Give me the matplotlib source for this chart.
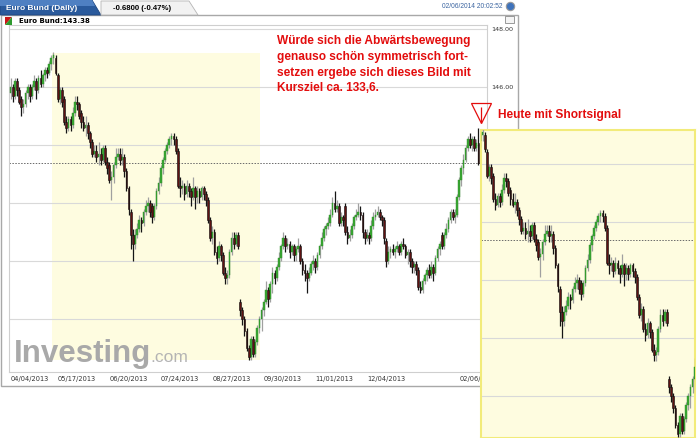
#!/usr/bin/python3
"""
Euro Bund (Daily) - Kerzenchart mit eingefügter Projektion der Abwärtsbewegung.
Nachbau eines Screenshots, gespeichert als out.png (700x438).
"""

import numpy as np
import matplotlib
matplotlib.use("Agg")
import matplotlib.pyplot as plt
from matplotlib.patches import Rectangle, Polygon
from matplotlib.lines import Line2D

FIG_W, FIG_H = 700, 438

# Tageskerzen 04/04/2013 - 02/06/2014, Index = Handelstag
opens = [
    145.8, 146.0, 145.7, 146.2, 145.9, 145.6, 145.3, 145.4, 145.8, 146.0,
    145.7, 146.0, 146.2, 145.9, 146.3, 146.1, 146.4, 146.6, 146.5, 146.8,
    147.0, 147.0, 146.4, 145.6, 145.9, 145.6, 144.8, 144.6, 144.9, 144.7,
    145.1, 145.5, 145.4, 145.1, 144.8, 144.6, 144.7, 144.4, 144.1, 143.7,
    143.8, 143.6, 143.7, 143.5, 143.9, 143.4, 143.3, 142.8, 142.9, 143.3,
    143.6, 143.7, 143.5, 143.6, 143.1, 142.5, 141.7, 140.9, 140.6, 140.9,
    141.1, 141.4, 141.3, 141.7, 141.9, 142.0, 141.9, 141.5, 141.9, 142.4,
    142.7, 143.2, 143.5, 143.8, 144.0, 144.2, 144.3, 144.2, 143.8, 142.6,
    142.5, 142.6, 142.3, 142.6, 142.4, 142.2, 142.5, 142.2, 142.4, 142.2,
    142.5, 142.3, 142.1, 141.4, 140.8, 141.0, 140.3, 140.1, 140.5, 140.2,
    139.6, 139.4, 139.5, 140.3, 140.8, 140.6, 140.9, 138.6, 138.3, 138.0,
    137.6, 137.0, 136.7, 137.3, 136.8, 137.2, 137.7, 138.0, 138.3, 138.6,
    139.0, 138.7, 139.2, 139.6, 139.4, 139.8, 140.1, 140.5, 140.8, 140.5,
    140.6, 140.3, 140.5, 140.2, 140.4, 140.5, 140.0, 139.7, 139.6, 139.4,
    139.6, 139.9, 140.0, 139.8, 140.2, 140.5, 140.8, 141.1, 141.2, 141.3,
    141.6, 142.0, 141.8, 141.9, 141.3, 141.5, 141.9, 141.0, 140.8, 140.9,
    141.2, 141.5, 141.6, 141.7, 141.6, 141.0, 140.8, 140.9, 140.8, 141.2,
    141.5, 141.6, 141.7, 141.5, 141.4, 140.7, 140.0, 140.3, 140.4, 140.3,
    140.4, 140.5, 140.3, 140.6, 140.5, 140.2, 140.3, 140.0, 139.8, 139.9,
    139.7, 139.1, 139.0, 139.3, 139.5, 139.7, 139.5, 139.8, 139.6, 140.1,
    140.4, 140.9, 140.5, 140.9, 141.1, 141.4, 141.7, 141.5, 141.6, 142.2,
    142.8, 143.2, 143.5, 143.9, 144.2, 144.0, 144.2, 143.9, 144.06,
]
highs = [
    146.3, 146.1, 146.3, 146.3, 146.0, 145.7, 145.6, 145.9, 146.1, 146.1,
    146.1, 146.4, 146.3, 146.4, 146.6, 146.5, 146.7, 146.7, 146.9, 147.1,
    147.2, 147.1, 146.5, 146.0, 146.0, 145.7, 145.0, 145.0, 145.0, 145.3,
    145.7, 145.7, 145.5, 145.2, 145.0, 145.0, 144.8, 144.5, 144.2, 144.0,
    144.0, 144.1, 143.9, 144.0, 144.0, 143.6, 143.4, 143.1, 143.4, 143.9,
    143.9, 143.9, 143.9, 143.7, 143.2, 142.6, 141.8, 141.1, 141.1, 141.3,
    141.6, 141.5, 141.8, 142.1, 142.2, 142.1, 142.0, 142.0, 142.5, 142.9,
    143.3, 143.6, 143.9, 144.1, 144.3, 144.4, 144.4, 144.3, 143.9, 142.9,
    142.8, 142.7, 142.8, 142.7, 142.5, 142.9, 142.6, 142.6, 142.5, 142.6,
    142.6, 142.4, 142.2, 141.5, 141.2, 141.1, 140.5, 140.7, 140.6, 140.3,
    139.8, 139.7, 140.4, 141.0, 141.0, 141.0, 141.0, 138.7, 138.4, 138.1,
    137.7, 137.1, 137.4, 137.4, 137.3, 137.8, 138.1, 138.4, 138.7, 139.3,
    139.1, 139.3, 139.8, 139.7, 139.9, 140.3, 140.6, 141.0, 140.9, 140.8,
    140.7, 140.6, 140.6, 140.5, 140.8, 140.6, 140.1, 139.9, 139.7, 139.8,
    140.0, 140.2, 140.1, 140.3, 140.6, 141.0, 141.2, 141.3, 141.5, 141.8,
    142.2, 142.4, 142.1, 142.0, 141.7, 141.6, 142.0, 141.2, 141.1, 141.3,
    141.6, 141.8, 142.0, 141.9, 141.7, 141.1, 141.1, 141.0, 141.4, 141.7,
    141.8, 141.9, 141.8, 141.6, 141.5, 140.8, 140.5, 140.5, 140.6, 140.5,
    140.7, 140.6, 140.7, 140.8, 140.6, 140.4, 140.4, 140.1, 140.0, 140.0,
    139.8, 139.3, 139.4, 139.6, 139.8, 139.9, 140.0, 139.9, 140.2, 140.5,
    140.7, 141.0, 141.0, 141.3, 141.5, 141.8, 141.8, 141.8, 142.3, 142.9,
    143.3, 143.7, 144.0, 144.3, 144.4, 144.3, 144.3, 144.2, 144.6,
]
lows = [
    145.6, 145.5, 145.6, 145.7, 145.4, 145.0, 145.1, 145.3, 145.6, 145.5,
    145.6, 145.9, 145.6, 145.8, 146.0, 146.0, 146.2, 146.3, 146.4, 146.6,
    146.8, 146.4, 145.5, 145.4, 145.3, 144.7, 144.4, 144.5, 144.5, 144.6,
    145.0, 145.2, 144.9, 144.6, 144.5, 144.3, 144.2, 143.9, 143.6, 143.6,
    143.4, 143.3, 143.3, 143.4, 143.3, 143.0, 142.7, 142.1, 142.7, 143.2,
    143.5, 143.3, 143.3, 142.9, 142.4, 141.6, 140.4, 140.0, 140.4, 140.8,
    141.0, 141.0, 141.2, 141.6, 141.7, 141.5, 141.3, 141.4, 141.8, 142.3,
    142.6, 143.0, 143.4, 143.7, 143.9, 144.0, 144.0, 143.7, 142.5, 142.2,
    142.3, 142.1, 142.2, 142.2, 141.9, 142.1, 141.8, 142.0, 142.0, 142.1,
    142.1, 141.9, 141.3, 140.7, 140.6, 140.2, 139.9, 140.0, 140.0, 139.5,
    139.2, 139.2, 139.4, 140.2, 140.4, 140.5, 140.4, 138.1, 137.8, 137.4,
    136.9, 136.6, 136.6, 136.7, 136.7, 137.1, 137.5, 137.6, 138.1, 138.5,
    138.4, 138.6, 138.9, 139.2, 139.3, 139.7, 140.0, 140.4, 140.3, 140.4,
    140.1, 140.2, 140.0, 140.0, 140.3, 139.9, 139.5, 139.3, 138.9, 139.3,
    139.5, 139.7, 139.6, 139.7, 140.1, 140.4, 140.7, 140.9, 141.1, 141.2,
    141.5, 141.7, 141.7, 141.2, 141.2, 141.2, 140.9, 140.6, 140.7, 140.8,
    141.1, 141.4, 141.5, 141.4, 140.8, 140.6, 140.7, 140.6, 140.7, 141.1,
    141.4, 141.5, 141.4, 141.2, 140.6, 139.8, 139.9, 140.1, 140.2, 140.1,
    140.3, 140.2, 140.2, 140.4, 140.1, 139.9, 139.8, 139.6, 139.6, 139.5,
    139.0, 138.9, 138.9, 139.2, 139.3, 139.4, 139.4, 139.3, 139.5, 140.0,
    140.2, 140.4, 140.4, 140.8, 141.0, 141.3, 141.4, 141.3, 141.5, 142.1,
    142.6, 143.0, 143.4, 143.8, 143.9, 143.8, 143.8, 143.8, 143.3,
]
closes = [
    146.0, 145.7, 146.2, 145.9, 145.5, 145.3, 145.4, 145.8, 146.0, 145.7,
    146.0, 146.2, 145.9, 146.3, 146.1, 146.4, 146.6, 146.5, 146.8, 147.0,
    147.1, 146.5, 145.6, 145.9, 145.5, 144.8, 144.6, 144.9, 144.7, 145.1,
    145.5, 145.4, 145.0, 144.8, 144.6, 144.7, 144.4, 144.1, 143.7, 143.8,
    143.6, 143.7, 143.5, 143.9, 143.4, 143.2, 142.8, 142.9, 143.3, 143.6,
    143.7, 143.5, 143.6, 143.1, 142.5, 141.8, 140.9, 140.6, 140.9, 141.1,
    141.4, 141.3, 141.7, 141.9, 142.0, 141.7, 141.5, 141.9, 142.4, 142.7,
    143.2, 143.5, 143.8, 144.0, 144.2, 144.3, 144.2, 143.8, 142.6, 142.5,
    142.6, 142.3, 142.6, 142.4, 142.2, 142.5, 142.2, 142.4, 142.2, 142.5,
    142.3, 142.1, 141.4, 140.8, 141.0, 140.3, 140.1, 140.5, 140.2, 139.6,
    139.4, 139.5, 140.3, 140.8, 140.6, 140.9, 140.5, 138.3, 138.0, 137.6,
    137.0, 136.7, 137.3, 136.8, 137.2, 137.7, 138.0, 138.3, 138.6, 139.0,
    138.7, 139.2, 139.6, 139.4, 139.8, 140.1, 140.5, 140.8, 140.5, 140.6,
    140.3, 140.5, 140.2, 140.4, 140.5, 140.0, 139.7, 139.6, 139.4, 139.6,
    139.9, 140.0, 139.8, 140.2, 140.5, 140.8, 141.1, 141.2, 141.3, 141.6,
    142.0, 141.8, 141.9, 141.3, 141.5, 141.4, 141.0, 140.8, 140.9, 141.2,
    141.5, 141.6, 141.7, 141.6, 141.0, 140.8, 140.9, 140.8, 141.2, 141.5,
    141.6, 141.7, 141.5, 141.4, 140.8, 140.0, 140.3, 140.4, 140.3, 140.4,
    140.5, 140.3, 140.6, 140.5, 140.2, 140.3, 140.0, 139.8, 139.9, 139.7,
    139.1, 139.0, 139.3, 139.5, 139.7, 139.5, 139.8, 139.6, 140.1, 140.4,
    140.6, 140.5, 140.9, 141.1, 141.4, 141.7, 141.5, 141.6, 142.2, 142.8,
    143.2, 143.5, 143.9, 144.2, 144.0, 144.2, 143.9, 144.06, 143.38,
]

date_ticks = [0, 31, 55, 79, 103, 127, 151, 175, 218]
date_labels = ["04/04/2013", "05/17/2013", "06/20/2013", "07/24/2013",
               "08/27/2013", "09/30/2013", "11/01/2013", "12/04/2013",
               "02/06/2014"]
price_ticks = [138, 140, 142, 144, 146, 148]
last_price = 143.38

# gelb markierte Abwärtsbewegung und die eingefügte Kopie davon
shade_days = (19.3, 116.3)
shade_prices = (136.59, 147.17)
copy_days = (19.3, 119.1)
copy_prices = (136.55, 147.17)
signal_day, signal_price = 219.3, 145.1

title_text = "Euro Bund (Daily)"
change_text = "-0.6800 (-0.47%)"
quote_text = "Euro Bund:143.38"
stamp_text = "02/06/2014 20:02:52"
note_text = ("Würde sich die Abwärtsbewegung\n"
             "genauso schön symmetrisch fort-\n"
             "setzen ergebe sich dieses Bild mit\n"
             "Kursziel ca. 133,6.")
signal_text = "Heute mit Shortsignal"

RED = "#e30d0d"
PALE = "#fefce0"

plt.rcParams["font.family"] = ["Liberation Sans", "DejaVu Sans"]


def fig_box(x0, y0, x1, y1):
    """Pixelrechteck (oben links = 0,0) in Figure-Koordinaten."""
    return [x0 / FIG_W, 1 - y1 / FIG_H, (x1 - x0) / FIG_W, (y1 - y0) / FIG_H]


def fx(x):
    return x / FIG_W


def fy(y):
    return 1 - y / FIG_H


def draw_candles(ax, width=0.8):
    """Zeichnet die Tageskerzen aus opens/highs/lows/closes."""
    x = np.arange(len(closes))
    o, h, l, c = (np.array(v) for v in (opens, highs, lows, closes))
    up = c >= o
    body = np.maximum(np.abs(c - o), 0.04)
    ax.vlines(x[up], l[up], h[up], color="#a0a0a0", lw=0.9, zorder=3)
    ax.vlines(x[~up], l[~up], h[~up], color="#151515", lw=0.9, zorder=3)
    ax.bar(x[up], body[up], bottom=o[up], width=width, color="#39a833",
           edgecolor="#2d8b28", lw=0.3, zorder=4)
    ax.bar(x[~up], body[~up], bottom=c[~up], width=width, color="#5e1212",
           edgecolor="#111111", lw=0.4, zorder=4)


def draw_grid(ax):
    for p in price_ticks:
        ax.axhline(p, color="#d9d9d9", lw=0.8, zorder=1)
    ax.axhline(last_price, color="#6a6a6a", lw=0.7, ls=(0, (1.5, 1.5)), zorder=2)


def draw_header(fig):
    """Reiter, Rahmen und Kopfzeile des Screenshots."""
    tr = fig.transFigure
    fig.add_artist(Rectangle((fx(1), fy(386)), 517 / FIG_W, 371 / FIG_H,
                             transform=tr, fill=False, ec="#a8a8a8", lw=1, zorder=-2))
    fig.add_artist(Polygon([(fx(0), fy(0)), (fx(92), fy(0)), (fx(101), fy(15)), (fx(0), fy(15))],
                           transform=tr, fc="#2a5a9c", ec="#1d4680", lw=0.6, zorder=-1))
    fig.add_artist(Polygon([(fx(0), fy(0)), (fx(92), fy(0)), (fx(95), fy(6)), (fx(0), fy(6))],
                           transform=tr, fc="#4f80c2", ec="none", zorder=-1))
    fig.add_artist(Polygon([(fx(101), fy(1)), (fx(189), fy(1)), (fx(198), fy(15)), (fx(101), fy(15))],
                           transform=tr, fc="#f2f2f2", ec="#b5b5b5", lw=0.6, zorder=-1))
    fig.text(fx(6), fy(8), title_text, color="white", fontsize=6, weight="bold", va="center")
    fig.text(fx(113), fy(8), change_text, color="black", fontsize=5.6, weight="bold", va="center")
    fig.text(fx(502), fy(7), stamp_text, color="#3a64a0", fontsize=4.8, va="center", ha="right")
    fig.add_artist(Line2D([fx(510)], [fy(6)], marker="o", ms=6, mfc="#3f73bb",
                          mec="#9a9a9a", mew=0.8, transform=tr))
    fig.add_artist(Rectangle((fx(505), fy(23)), 9 / FIG_W, 7 / FIG_H, transform=tr,
                             fc="#f4f4f4", ec="#8a8a8a", lw=0.6))
    # kleines rot/gruenes Symbol vor dem Kurs
    fig.add_artist(Polygon([(fx(5), fy(17)), (fx(12), fy(17)), (fx(5), fy(25))],
                           transform=tr, fc="#c81818", ec="none"))
    fig.add_artist(Polygon([(fx(12), fy(17)), (fx(12), fy(25)), (fx(5), fy(25))],
                           transform=tr, fc="#2e9a2e", ec="none"))
    fig.text(fx(19), fy(21), quote_text, color="black", fontsize=5, weight="bold",
             va="center", family="DejaVu Sans")


def main():
    fig = plt.figure(figsize=(FIG_W / 100, FIG_H / 100), dpi=100)
    fig.patch.set_facecolor("white")

    # Hauptchart
    ax = fig.add_axes(fig_box(9, 25, 487, 372))
    ax.add_patch(Rectangle((shade_days[0], shade_prices[0]),
                           shade_days[1] - shade_days[0],
                           shade_prices[1] - shade_prices[0],
                           fc=PALE, ec="none", zorder=0.5))
    draw_grid(ax)
    draw_candles(ax)
    ax.set_xlim(-0.7, 222.0)
    ax.set_ylim(136.17, 148.14)
    ax.yaxis.tick_right()
    ax.set_yticks(price_ticks)
    ax.set_yticklabels([f"{p:.2f}" for p in price_ticks], fontsize=4.6,
                       family="DejaVu Sans", color="#333333")
    ax.set_xticks(date_ticks)
    ax.set_xticklabels(date_labels, fontsize=4.8, family="DejaVu Sans", color="#333333")
    ax.get_xticklabels()[0].set_ha("left")
    ax.tick_params(length=0, pad=3)
    for s in ax.spines.values():
        s.set_color("#cfcfcf")
        s.set_linewidth(0.8)

    # Signal-Dreieck ueber der letzten Kerze
    ax.plot([signal_day], [signal_price], marker="v", ms=14, mfc="none",
            mec=RED, mew=0.9, clip_on=False, zorder=10)
    ax.plot([signal_day], [signal_price - 0.05], marker="|", ms=12,
            mec=RED, mew=0.9, clip_on=False, zorder=10)

    draw_header(fig)

    # Wasserzeichen
    fig.text(fx(14), fy(362), "Investing", fontsize=22.5, weight="bold",
             color="#a9a9a9", va="baseline", zorder=1)
    fig.text(fx(150), fy(362), ".com", fontsize=12.5, color="#b4b4b4",
             va="baseline", zorder=1)

    # Kommentar
    fig.text(fx(277), fy(35), note_text, color=RED, fontsize=8.6, weight="bold",
             va="top", linespacing=1.42)
    fig.text(fx(498), fy(115), signal_text, color=RED, fontsize=8.6,
             weight="bold", va="center")

    # eingefuegte Kopie der Abwaertsbewegung (Projektion)
    ax2 = fig.add_axes(fig_box(481, 130, 695, 438))
    ax2.set_zorder(5)
    ax2.set_facecolor(PALE)
    draw_grid(ax2)
    draw_candles(ax2)
    ax2.set_xlim(*copy_days)
    ax2.set_ylim(*copy_prices)
    ax2.set_xticks([])
    ax2.set_yticks([])
    for s in ax2.spines.values():
        s.set_color("#f2eb7a")
        s.set_linewidth(1.5)

    fig.savefig("out.png", dpi=100, facecolor="white")
    plt.close(fig)


if __name__ == "__main__":
    main()
